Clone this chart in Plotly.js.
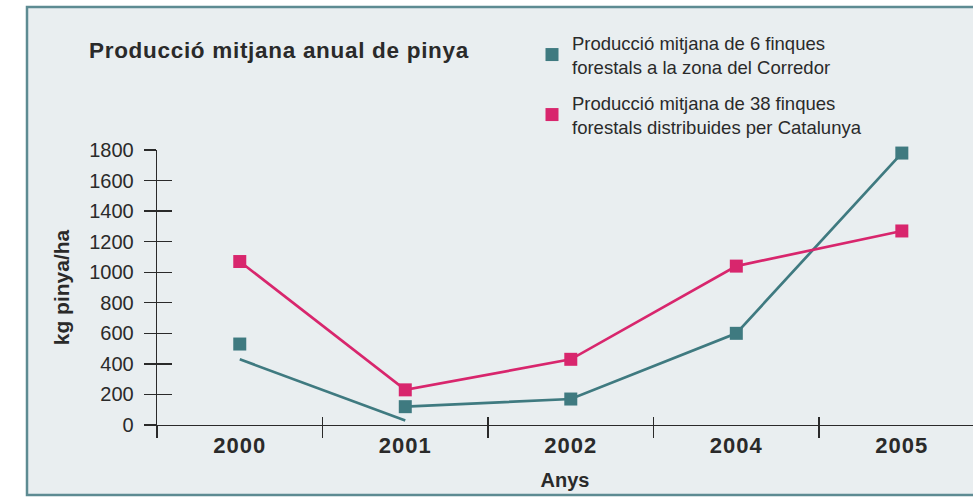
<!DOCTYPE html>
<html>
<head>
<meta charset="utf-8">
<script src="https://cdn.plot.ly/plotly-3.0.1.min.js"></script>
<style>
html,body{margin:0;padding:0;background:#ffffff;}
#chart{width:973px;height:498px;}
#chart .gtitle{letter-spacing:0.7px;}
#chart .xtick text{letter-spacing:1px;}
</style>
</head>
<body>
<div id="chart"></div>
<script>
// ---- data ----
var years = ['2000', '2001', '2002', '2004', '2005'];
var corredor = [530, 120, 170, 600, 1780];          // 6 finques, zona del Corredor (markers)
var corredorLineA_x = ['2000', '2001'];             // misaligned printed segment
var corredorLineA_y = [430, 30];
var corredorLineB_x = ['2001', '2002', '2004', '2005'];
var corredorLineB_y = [120, 170, 600, 1780];
var catalunya = [1070, 230, 430, 1040, 1270];       // 38 finques, Catalunya
var yTicks = [0, 200, 400, 600, 800, 1000, 1200, 1400, 1600, 1800];

var teal = '#3f7a80';
var pink = '#d8266d';
var ink = '#2a2a2a';
var bg = '#e9eef0';

var nameA = 'Producció mitjana de 6 finques<br>forestals a la zona del Corredor';
var nameB = 'Producció mitjana de 38 finques<br>forestals distribuides per Catalunya';

var traces = [
  {x: corredorLineA_x, y: corredorLineA_y, type: 'scatter', mode: 'lines',
   line: {color: teal, width: 2.7}, showlegend: false, hoverinfo: 'skip', cliponaxis: false},
  {x: corredorLineB_x, y: corredorLineB_y, type: 'scatter', mode: 'lines',
   line: {color: teal, width: 2.7}, showlegend: false, cliponaxis: false},
  {x: years, y: catalunya, type: 'scatter', mode: 'lines',
   line: {color: pink, width: 2.7}, showlegend: false, cliponaxis: false},
  {x: years, y: corredor, type: 'scatter', mode: 'markers', name: nameA,
   marker: {symbol: 'square', size: 13, color: teal}, cliponaxis: false, legend: 'legend'},
  {x: years, y: catalunya, type: 'scatter', mode: 'markers', name: nameB,
   marker: {symbol: 'square', size: 13, color: pink}, cliponaxis: false, legend: 'legend2'},
  // invisible trace to carry the overlay axes (inside tick halves)
  {x: years, y: [null, null, null, null, null], type: 'scatter', mode: 'markers',
   xaxis: 'x2', yaxis: 'y2', showlegend: false, hoverinfo: 'skip'}
];

var layout = {
  width: 973, height: 498,
  margin: {l: 157, r: 0, t: 150, b: 73},
  paper_bgcolor: '#ffffff',
  plot_bgcolor: 'rgba(0,0,0,0)',
  font: {family: 'Liberation Sans, Arial, sans-serif', color: ink},
  title: {
    text: '<b>Producció mitjana anual de pinya</b>',
    font: {size: 22.5, color: ink, family: 'Liberation Sans, Arial, sans-serif'},
    x: 89 / 973, xanchor: 'left', xref: 'container',
    y: 1 - 50 / 498, yanchor: 'middle', yref: 'container'
  },
  xaxis: {
    type: 'category', categoryorder: 'array', categoryarray: years,
    range: [-0.5, 4.43], tickson: 'boundaries', ticks: 'outside', ticklen: 12,
    tickwidth: 1.3, tickcolor: ink, showline: true, linecolor: ink, linewidth: 1.3,
    showgrid: false, zeroline: false, fixedrange: true,
    tickfont: {size: 22, color: ink, weight: 'bold'},
    title: {text: '<b>Anys</b>', font: {size: 20, color: ink}, standoff: 16}
  },
  xaxis2: {
    type: 'category', categoryorder: 'array', categoryarray: years,
    overlaying: 'x', anchor: 'y', side: 'bottom',
    range: [-0.5, 4.43], tickson: 'boundaries', ticks: 'inside', ticklen: 8,
    tickwidth: 1.3, tickcolor: ink, showline: false, showticklabels: false,
    showgrid: false, zeroline: false, fixedrange: true
  },
  yaxis: {
    range: [0, 1800], tickvals: yTicks, ticks: 'outside', ticklen: 12,
    tickwidth: 1.3, tickcolor: ink, showline: true, linecolor: ink, linewidth: 1.3,
    showgrid: false, zeroline: false, fixedrange: true,
    tickfont: {size: 20, color: ink}, ticklabelstandoff: 6,
    title: {text: '<b>kg pinya/ha</b>', font: {size: 21, color: ink}, standoff: 14}
  },
  yaxis2: {
    range: [0, 1800], tickvals: yTicks, overlaying: 'y', anchor: 'x', side: 'left',
    ticks: 'inside', ticklen: 15, tickwidth: 1.3, tickcolor: ink,
    showline: false, showticklabels: false, showgrid: false, zeroline: false, fixedrange: true
  },
  legend: {
    x: (532 - 157) / 816, xanchor: 'left', y: (425 - 24) / 275, yanchor: 'top',
    bgcolor: 'rgba(0,0,0,0)', font: {size: 18.5, color: ink}
  },
  legend2: {
    x: (532 - 157) / 816, xanchor: 'left', y: (425 - 84) / 275, yanchor: 'top',
    bgcolor: 'rgba(0,0,0,0)', font: {size: 18.5, color: ink}
  },
  shapes: [
    {type: 'rect', xref: 'paper', yref: 'paper', layer: 'below',
     x0: (27 - 157) / 816, x1: (980 - 157) / 816, y0: (425 - 495) / 275, y1: (425 - 7) / 275,
     fillcolor: bg, line: {color: '#5d8b92', width: 2.5}}
  ],
  showlegend: true,
  hovermode: false
};

Plotly.newPlot('chart', traces, layout, {displayModeBar: false, staticPlot: true});
</script>
</body>
</html>
